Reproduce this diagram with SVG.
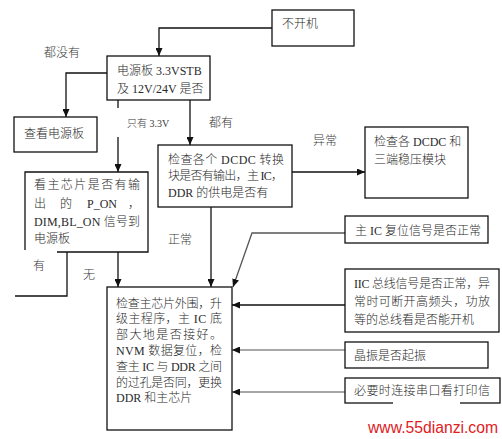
<svg xmlns="http://www.w3.org/2000/svg" width="502" height="439" viewBox="0 0 502 439">
<style>
.box{fill:#fff;stroke:#111;stroke-width:1.3}
.ln{fill:none;stroke:#111;stroke-width:1.3}
.gl{fill:none;stroke:#8a8a8a;stroke-width:1.6}
.dl{fill:none;stroke:#555;stroke-width:1.3}
text{font-family:"Liberation Serif","Noto Sans CJK SC",serif;font-size:12px;font-weight:300;fill:#2a2a2a}
.lab{font-size:12px;fill:#3a3a3a}
.sm{font-size:10px}
.wm{font-family:"Liberation Sans",Arial,sans-serif;font-size:16px;font-weight:400;fill:#e0201e}
</style>
<defs>
<marker id="ah" markerUnits="userSpaceOnUse" markerWidth="8" markerHeight="7" refX="8" refY="3.5" orient="auto">
<path d="M0,0 L8,3.5 L0,7 z" fill="#111"/>
</marker>
</defs>
<rect width="502" height="439" fill="#fff"/>
<g id="connectors">
<path class="ln" d="M272,28 H159 V56" marker-end="url(#ah)"/>
<path class="ln" d="M107,73 H66 V117" marker-end="url(#ah)"/>
<path class="ln" d="M190,100 V145" marker-end="url(#ah)"/>
<path class="ln" d="M118,100 V108"/>
<path class="ln" d="M118,137 V172" marker-end="url(#ah)"/>
<path class="ln" d="M292,172 H365" marker-end="url(#ah)"/>
<path class="ln" d="M211,207 V287" marker-end="url(#ah)"/>
<path class="ln" d="M118,252 V287" marker-end="url(#ah)"/>
<path class="ln" d="M67,252 V296 H15"/>
<path class="dl" d="M345,233 H252 L233,287" marker-end="url(#ah)"/>
<path class="ln" d="M345,305 H232" marker-end="url(#ah)"/>
<path class="gl" d="M345,350 H232" marker-end="url(#ah)"/>
<path class="gl" d="M345,392 H232" marker-end="url(#ah)"/>
</g>
<g id="labels">
<text class="lab" x="44" y="56.5">都没有</text>
<text class="lab sm" x="127" y="126.5">只有 3.3V</text>
<text class="lab" x="209" y="126.5">都有</text>
<text class="lab" x="313" y="144.5">异常</text>
<text class="lab" x="168" y="243.5">正常</text>
<text class="lab" x="33" y="269.5">有</text>
<text class="lab" x="83" y="278.5">无</text>
</g>
<g id="n-start">
<rect class="box" x="272" y="10" width="82" height="36"/>
<text x="282" y="27.5">不开机</text>
</g>
<g id="n-power">
<rect class="box" x="107" y="56" width="103" height="44"/>
<text x="117" y="74.5">电源板 3.3VSTB</text>
<text x="117" y="92.5">及 12V/24V 是否</text>
</g>
<g id="n-checkpower">
<rect class="box" x="14" y="117" width="83" height="35"/>
<text x="24" y="137.5">查看电源板</text>
</g>
<g id="n-pon">
<path class="box" d="M25,250 V172 H148 V252 H57"/>
<text x="34" y="188.5" textLength="106" lengthAdjust="spacing">看主芯片是否有输</text>
<text x="34" y="207.5">出</text>
<text x="60" y="207.5">的</text>
<text x="87" y="207.5">P_ON</text>
<text x="128" y="207.5">，</text>
<text x="34" y="225.5" textLength="106" lengthAdjust="spacing">DIM,BL_ON 信号到</text>
<text x="34" y="242.5">电源板</text>
</g>
<g id="n-dcdc">
<rect class="box" x="158" y="145" width="134" height="62"/>
<text x="168" y="163.5" textLength="116" lengthAdjust="spacing">检查各个 DCDC 转换</text>
<text x="168" y="179.5" textLength="115" lengthAdjust="spacing">块是否有输出，主 IC，</text>
<text x="168" y="196.5">DDR 的供电是否有</text>
</g>
<g id="n-dcdc2">
<rect class="box" x="365" y="127" width="103" height="71"/>
<text x="374" y="145.5">检查各 DCDC 和</text>
<text x="374" y="163.5">三端稳压模块</text>
</g>
<g id="n-reset">
<rect class="box" x="345" y="216" width="143" height="27"/>
<text x="355" y="234.5">主 IC 复位信号是否正常</text>
</g>
<g id="n-iic">
<rect class="box" x="345" y="269" width="154" height="63"/>
<text x="354" y="287.5" textLength="136" lengthAdjust="spacing">IIC 总线信号是否正常，异</text>
<text x="354" y="305.5" textLength="136" lengthAdjust="spacing">常时可断开高频头，功放</text>
<text x="354" y="323.5">等的总线看是否能开机</text>
</g>
<g id="n-xtal">
<rect class="box" x="345" y="342" width="143" height="26"/>
<text x="354" y="359.5">晶振是否起振</text>
</g>
<g id="n-uart">
<rect class="box" x="345" y="378" width="155" height="25"/>
<rect x="393" y="400" width="67" height="8" fill="#fff"/>
<text x="354" y="395" textLength="136" lengthAdjust="spacing">必要时连接串口看打印信</text>
</g>
<g id="n-main">
<rect class="box" x="107" y="287" width="125" height="143"/>
<text x="116" y="307.5" textLength="106" lengthAdjust="spacing">检查主芯片外围，升</text>
<text x="116" y="323.3" textLength="106" lengthAdjust="spacing">级主程序，主 IC 底</text>
<text x="116" y="339.1" textLength="106" lengthAdjust="spacing">部大地是否接好。</text>
<text x="116" y="354.9" textLength="106" lengthAdjust="spacing">NVM 数据复位，检</text>
<text x="116" y="370.7" textLength="106" lengthAdjust="spacing">查主 IC 与 DDR 之间</text>
<text x="116" y="386.5" textLength="106" lengthAdjust="spacing">的过孔是否同，更换</text>
<text x="116" y="402.3">DDR 和主芯片</text>
</g>
<text class="wm" x="368" y="433" textLength="130" lengthAdjust="spacingAndGlyphs">www.55dianzi.com</text>
</svg>
